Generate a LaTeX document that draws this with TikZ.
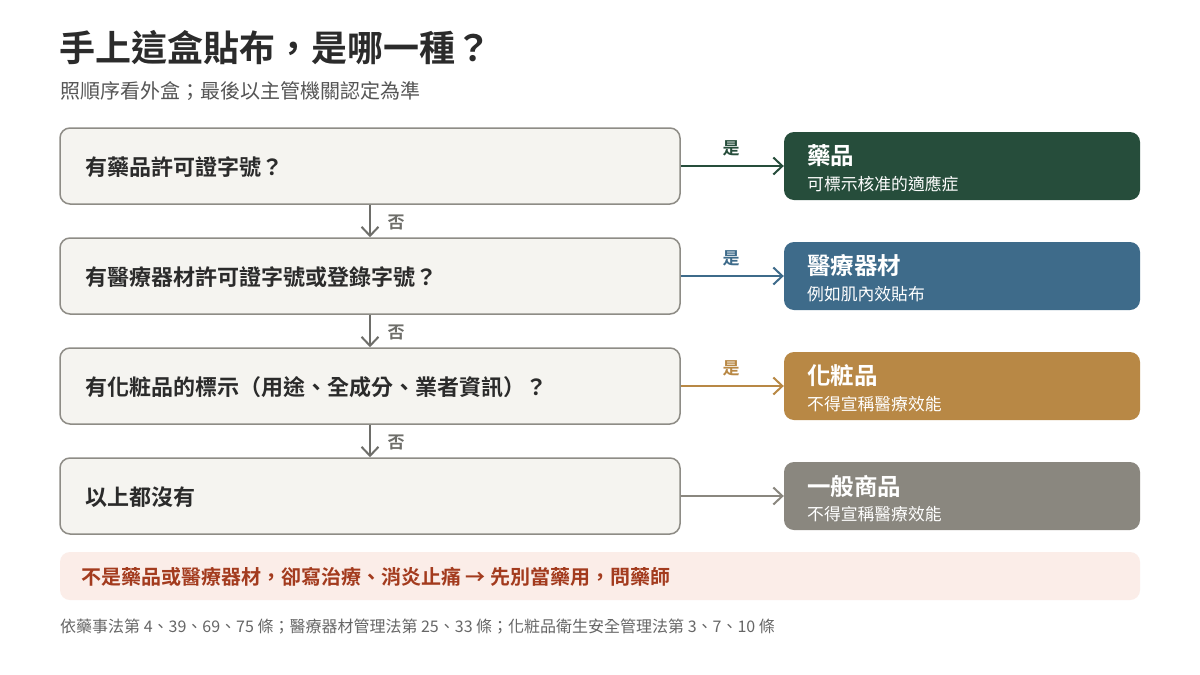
\documentclass[tikz,border=0pt]{standalone}
\usepackage{fontspec}
\setmainfont{Noto Sans CJK TC}[BoldFont={Noto Sans CJK TC Bold}]
\usetikzlibrary{arrows.meta}
\definecolor{qfill}{HTML}{F5F4F0}
\definecolor{qdraw}{HTML}{8E8C86}
\definecolor{cgreen}{HTML}{264D3B}
\definecolor{cblue}{HTML}{3E6B8A}
\definecolor{cgold}{HTML}{B88845}
\definecolor{cgray}{HTML}{8A877F}
\definecolor{ctext}{HTML}{2B2B2B}
\definecolor{csub}{HTML}{555555}
\definecolor{cfoot}{HTML}{666666}
\definecolor{warnfill}{HTML}{FBEDE8}
\definecolor{warntext}{HTML}{A33B1E}
\definecolor{noarrow}{HTML}{6E6E6A}
\tikzset{
  qbox/.style={draw=qdraw, line width=1.5pt, fill=qfill, rounded corners=10pt,
    minimum width=620pt, minimum height=76pt, inner sep=0pt},
  rbox/.style={fill=#1, rounded corners=10pt, minimum width=356pt, minimum height=68pt, inner sep=0pt},
  qtext/.style={anchor=west, inner sep=0pt, text=ctext, font=\fontsize{22}{26}\selectfont\bfseries},
  rtitle/.style={anchor=west, inner sep=0pt, text=white, font=\fontsize{23.5}{28}\selectfont\bfseries},
  rsub/.style={anchor=west, inner sep=0pt, text=white, font=\fontsize{16.8}{20}\selectfont},
  yesarrow/.style={draw=#1, line width=2pt, -{Straight Barb[length=9pt,width=17pt,line width=2pt]}},
  yeslabel/.style={text=#1, inner sep=0pt, font=\fontsize{17}{20}\selectfont\bfseries},
  noarrowstyle/.style={draw=noarrow, line width=2pt, -{Straight Barb[length=9pt,width=17pt,line width=2pt]}},
  nolabel/.style={text=noarrow, inner sep=0pt, font=\fontsize{17}{20}\selectfont\bfseries},
}
\begin{document}
\begin{tikzpicture}[x=1pt,y=-1pt]
\useasboundingbox[fill=white] (0,0) rectangle (1200,675);
% title
\node[anchor=west, inner sep=0pt, text=ctext, font=\fontsize{36}{42}\selectfont\bfseries] (title) at (59,48) {手上這盒貼布，是哪一種？};
\node[anchor=west, inner sep=0pt, text=csub, font=\fontsize{20}{24}\selectfont] (subtitle) at (60,91) {照順序看外盒；最後以主管機關認定為準};
% question boxes
\node[qbox] (q1) at (370,166) {};
\node[qbox] (q2) at (370,276) {};
\node[qbox] (q3) at (370,386) {};
\node[qbox] (q4) at (370,496) {};
\node[qtext] (t1) at (85,167) {有藥品許可證字號？};
\node[qtext] (t2) at (85,277) {有醫療器材許可證字號或登錄字號？};
\node[qtext] (t3) at (85,387) {有化粧品的標示（用途、全成分、業者資訊）？};
\node[qtext] (t4) at (85,497) {以上都沒有};
% result boxes
\node[rbox=cgreen] (r1) at (962,166) {};
\node[rbox=cblue] (r2) at (962,276) {};
\node[rbox=cgold] (r3) at (962,386) {};
\node[rbox=cgray] (r4) at (962,496) {};
\node[rtitle] (r1t) at (807,156) {藥品};
\node[rsub] (r1s) at (807,184) {可標示核准的適應症};
\node[rtitle] (r2t) at (807,266) {醫療器材};
\node[rsub] (r2s) at (807,294) {例如肌內效貼布};
\node[rtitle] (r3t) at (807,376) {化粧品};
\node[rsub] (r3s) at (807,404) {不得宣稱醫療效能};
\node[rtitle] (r4t) at (807,486) {一般商品};
\node[rsub] (r4s) at (807,514) {不得宣稱醫療效能};
% yes arrows
\draw[yesarrow=cgreen] (q1.east) -- (r1.west);
\draw[yesarrow=cblue] (q2.east) -- (r2.west);
\draw[yesarrow=cgold] (q3.east) -- (r3.west);
\draw[yesarrow=cgray] (q4.east) -- (r4.west);
\node[yeslabel=cgreen] (y1) at (731,148) {是};
\node[yeslabel=cblue] (y2) at (731,258) {是};
\node[yeslabel=cgold] (y3) at (731,368) {是};
% no arrows
\draw[noarrowstyle] (q1.south) -- (q2.north);
\draw[noarrowstyle] (q2.south) -- (q3.north);
\draw[noarrowstyle] (q3.south) -- (q4.north);
\node[nolabel] (n1) at (396,222) {否};
\node[nolabel] (n2) at (396,332) {否};
\node[nolabel] (n3) at (396,442) {否};
% warning
\node[fill=warnfill, rounded corners=10pt, minimum width=1080pt, minimum height=48pt, inner sep=0pt] (warn) at (600,576) {};
\node[anchor=west, inner sep=0pt, text=warntext, font=\fontsize{20}{24}\selectfont\bfseries] (warnt) at (81,577) {不是藥品或醫療器材，卻寫治療、消炎止痛 → 先別當藥用，問藥師};
% footer
\node[anchor=west, inner sep=0pt, text=cfoot, font=\fontsize{16}{19}\selectfont] (foot) at (60,627) {依藥事法第 4、39、69、75 條；醫療器材管理法第 25、33 條；化粧品衛生安全管理法第 3、7、10 條};
\end{tikzpicture}
\end{document}
